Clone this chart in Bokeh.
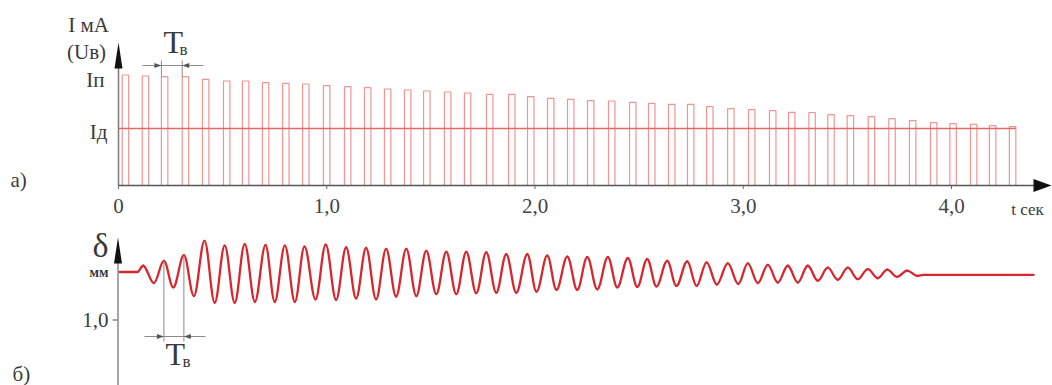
from bokeh.plotting import figure
from bokeh.models import Range1d, ColumnDataSource
from bokeh.layouts import column
from bokeh.embed import file_html
from bokeh.resources import INLINE
from bokeh.core.properties import value

# ---------------- data ----------------
# a) current pulses: start time of each pulse (s) and its peak value (relative mA)
pulse_start = [0.018, 0.114, 0.206, 0.306, 0.403, 0.504, 0.595, 0.691, 0.788, 0.884,
               0.984, 1.085, 1.181, 1.277, 1.373, 1.465, 1.565, 1.661, 1.767, 1.873,
               1.964, 2.060, 2.156, 2.252, 2.353, 2.454, 2.545, 2.641, 2.732, 2.824,
               2.925, 3.025, 3.126, 3.217, 3.315, 3.406, 3.499, 3.600, 3.699, 3.798,
               3.899, 3.992, 4.091, 4.182, 4.278]
pulse_peak = [11.05, 10.95, 10.88, 10.88, 10.62, 10.45, 10.45, 10.28, 10.22, 10.15,
              9.98, 9.88, 9.78, 9.65, 9.55, 9.45, 9.35, 9.25, 9.12, 9.12,
              8.88, 8.72, 8.62, 8.48, 8.45, 8.32, 8.22, 8.12, 8.12, 7.88,
              7.68, 7.58, 7.48, 7.32, 7.30, 7.08, 6.98, 6.88, 6.68, 6.48,
              6.28, 6.18, 6.12, 5.98, 5.88]
pulse_width = 0.031
I_p = 11.05
I_d = 5.7

# b) oscillation extremes: time (s) and deflection delta (mm, positive downward)
osc_t = [0.005, 0.091, 0.118, 0.170, 0.218, 0.263, 0.314, 0.362, 0.413, 0.462,
         0.510, 0.558, 0.606, 0.655, 0.706, 0.750, 0.799, 0.847, 0.893, 0.946,
         0.995, 1.045, 1.093, 1.141, 1.189, 1.237, 1.285, 1.333, 1.382, 1.430,
         1.478, 1.526, 1.574, 1.622, 1.670, 1.718, 1.766, 1.814, 1.862, 1.910,
         1.963, 2.007, 2.059, 2.103, 2.155, 2.203, 2.251, 2.299, 2.350, 2.395,
         2.446, 2.491, 2.539, 2.583, 2.635, 2.679, 2.731, 2.776, 2.824, 2.873,
         2.926, 2.976, 3.022, 3.070, 3.118, 3.166, 3.214, 3.262, 3.310, 3.358,
         3.406, 3.454, 3.502, 3.550, 3.598, 3.646, 3.691, 3.739, 3.787, 3.835,
         3.866, 4.394]
osc_d = [0.00, 0.00, -0.13, 0.23, -0.23, 0.32, -0.35, 0.50, -0.65, 0.64,
         -0.55, 0.64, -0.58, 0.62, -0.56, 0.62, -0.55, 0.62, -0.53, 0.57,
         -0.57, 0.58, -0.51, 0.55, -0.50, 0.57, -0.48, 0.51, -0.48, 0.50,
         -0.44, 0.46, -0.42, 0.46, -0.42, 0.44, -0.41, 0.43, -0.37, 0.43,
         -0.37, 0.41, -0.34, 0.37, -0.32, 0.37, -0.31, 0.36, -0.31, 0.32,
         -0.29, 0.31, -0.27, 0.30, -0.23, 0.29, -0.22, 0.29, -0.20, 0.26,
         -0.18, 0.25, -0.18, 0.23, -0.15, 0.22, -0.13, 0.22, -0.13, 0.18,
         -0.09, 0.16, -0.09, 0.15, -0.06, 0.13, -0.05, 0.10, -0.03, 0.08,
         0.06, 0.06]

x_ticks = [0, 1, 2, 3, 4]
x_tick_labels = ["0", "1,0", "2,0", "3,0", "4,0"]
d_tick = 1.0
d_tick_label = "1,0"

# ---------------- layout helpers (page pixels -> data) ----------------
W, H = 1052, 385
SPLIT = 224                      # page y where panel b starts
X0, PXS = 118.0, 208.25          # page x of t=0, px per second
BASE_Y, PXA = 185.0, 10.0        # page y of I=0, px per unit (panel a)
REST_Y, PXM = 271.5, 48.0        # page y of delta=0, px per mm (panel b)

def tx(px): return (px - X0) / PXS
def ya(py): return (BASE_Y - py) / PXA
def yb(py): return (py - REST_Y) / PXM

SERIF = value("Liberation Serif")
TXT = "#3a3a3a"
AX = "#7a7a7a"

xr = Range1d(tx(0), tx(W))

def base_fig(h, yr):
    p = figure(width=W, height=h, x_range=xr, y_range=yr, output_backend="svg",
               toolbar_location=None, min_border=0)
    p.outline_line_color = None
    p.xgrid.visible = False
    p.ygrid.visible = False
    p.xaxis.visible = False
    p.yaxis.visible = False
    p.background_fill_color = "white"
    p.border_fill_color = "white"
    return p

def txt(p, x, y, s, size, align="left", style="normal", color=TXT):
    p.text(x=x if isinstance(x, list) else [x], y=y if isinstance(y, list) else [y],
           text=s if isinstance(s, list) else [s], text_font=SERIF, text_font_size=size,
           text_align=align, text_baseline="middle", text_font_style=style, text_color=color)

def dim_arrows(p, x_left, x_right, y, yconv, length=7, half=2.5):
    p.patch([tx(x_left - length), tx(x_left), tx(x_left - length)],
            [yconv(y - half), yconv(y), yconv(y + half)], color="#555555", line_width=0)
    p.patch([tx(x_right + length), tx(x_right), tx(x_right + length)],
            [yconv(y - half), yconv(y), yconv(y + half)], color="#555555", line_width=0)

# ================= panel a) =================
pa = base_fig(SPLIT, Range1d(ya(SPLIT), ya(0)))

src = ColumnDataSource(dict(left=pulse_start,
                            right=[s + pulse_width for s in pulse_start],
                            top=pulse_peak, bottom=[0] * len(pulse_start)))
pa.quad(left="left", right="right", top="top", bottom="bottom", source=src,
        fill_color=None, line_color="#f19494", line_width=1.2)
pa.line([0, pulse_start[-1] + pulse_width], [I_d, I_d], line_color="#e36868", line_width=1.6)

# axes drawn as lines with arrows
pa.line([0, 0], [0, ya(66)], line_color=AX, line_width=1.5)
pa.patch([tx(X0 - 4), 0, tx(X0 + 4)], [ya(68), ya(42), ya(68)], color="#111111", line_width=0)
pa.line([0, tx(1035)], [0, 0], line_color="#555555", line_width=1.5)
pa.patch([tx(1033), tx(1051), tx(1033)], [ya(BASE_Y - 6.5), 0, ya(BASE_Y + 6.5)],
         color="#111111", line_width=0)

# x ticks and labels
pa.segment(x0=x_ticks, y0=[0] * len(x_ticks), x1=x_ticks, y1=[ya(BASE_Y + 3.5)] * len(x_ticks),
           line_color="#666666", line_width=1)
txt(pa, x_ticks, [ya(205)] * len(x_ticks), x_tick_labels, "21px", align="center", color="#444444")
txt(pa, tx(1027), ya(209), "t сек", "17px", align="center")

txt(pa, tx(88), ya(24), "I мА", "21px", align="center")
txt(pa, tx(86), ya(51), "(Uв)", "21px", align="center")
txt(pa, tx(104), I_p - 0.45, "Iп", "21px", align="right")
txt(pa, tx(107), I_d - 0.35, "Iд", "21px", align="right")
txt(pa, tx(10), ya(179), "а)", "21px")

# T_в dimension (panel a)
xa1 = X0 + pulse_start[2] * PXS
xa2 = X0 + pulse_start[3] * PXS
for i in (2, 3):
    pa.line([pulse_start[i], pulse_start[i]], [ya(60), pulse_peak[i]], line_color="#8a8a8a", line_width=1)
pa.line([tx(142), tx(203)], [ya(65), ya(65)], line_color="#8a8a8a", line_width=1)
dim_arrows(pa, xa1, xa2, 65, ya)
txt(pa, tx(163), ya(41), "T", "32px")
txt(pa, tx(179), ya(49), "в", "17px")

# ================= panel b) =================
pb = base_fig(H - SPLIT, Range1d(yb(H), yb(SPLIT)))

k = 0.3634
x0, x1 = osc_t[:-1], osc_t[1:]
y0, y1 = osc_d[:-1], osc_d[1:]
bsrc = ColumnDataSource(dict(
    x0=x0, y0=y0, x1=x1, y1=y1,
    cx0=[a + k * (b - a) for a, b in zip(x0, x1)], cy0=y0,
    cx1=[b - k * (b - a) for a, b in zip(x0, x1)], cy1=y1))
pb.bezier(x0="x0", y0="y0", x1="x1", y1="y1", cx0="cx0", cy0="cy0", cx1="cx1", cy1="cy1",
          source=bsrc, line_color="#d8262e", line_width=2.3, line_cap="round")

# delta axis
pb.line([tx(117.5), tx(117.5)], [yb(H), yb(261)], line_color="#8a8a8a", line_width=1.5)
pb.patch([tx(113.5), tx(117.5), tx(121.5)], [yb(263), yb(237), yb(263)], color="#111111", line_width=0)
pb.line([tx(112), tx(117.5)], [d_tick, d_tick], line_color="#8a8a8a", line_width=1.5)
txt(pb, tx(108), d_tick, d_tick_label, "21px", align="right")
txt(pb, tx(92), yb(245), "δ", "34px")
txt(pb, tx(108), yb(271.5), "мм", "14px", align="right", style="bold")
txt(pb, tx(12), yb(373), "б)", "21px")

# T_в dimension (panel b)
for i in (4, 6):
    pb.line([osc_t[i], osc_t[i]], [osc_d[i], yb(341)], line_color="#8a8a8a", line_width=1)
pb.line([tx(144), tx(205)], [yb(336), yb(336)], line_color="#8a8a8a", line_width=1)
dim_arrows(pb, X0 + osc_t[4] * PXS, X0 + osc_t[6] * PXS, 336, yb)
txt(pb, tx(165), yb(353.5), "T", "32px")
txt(pb, tx(182), yb(361), "в", "17px")

layout = column(pa, pb, spacing=0)
open("out.html", "w").write(file_html(layout, INLINE))
